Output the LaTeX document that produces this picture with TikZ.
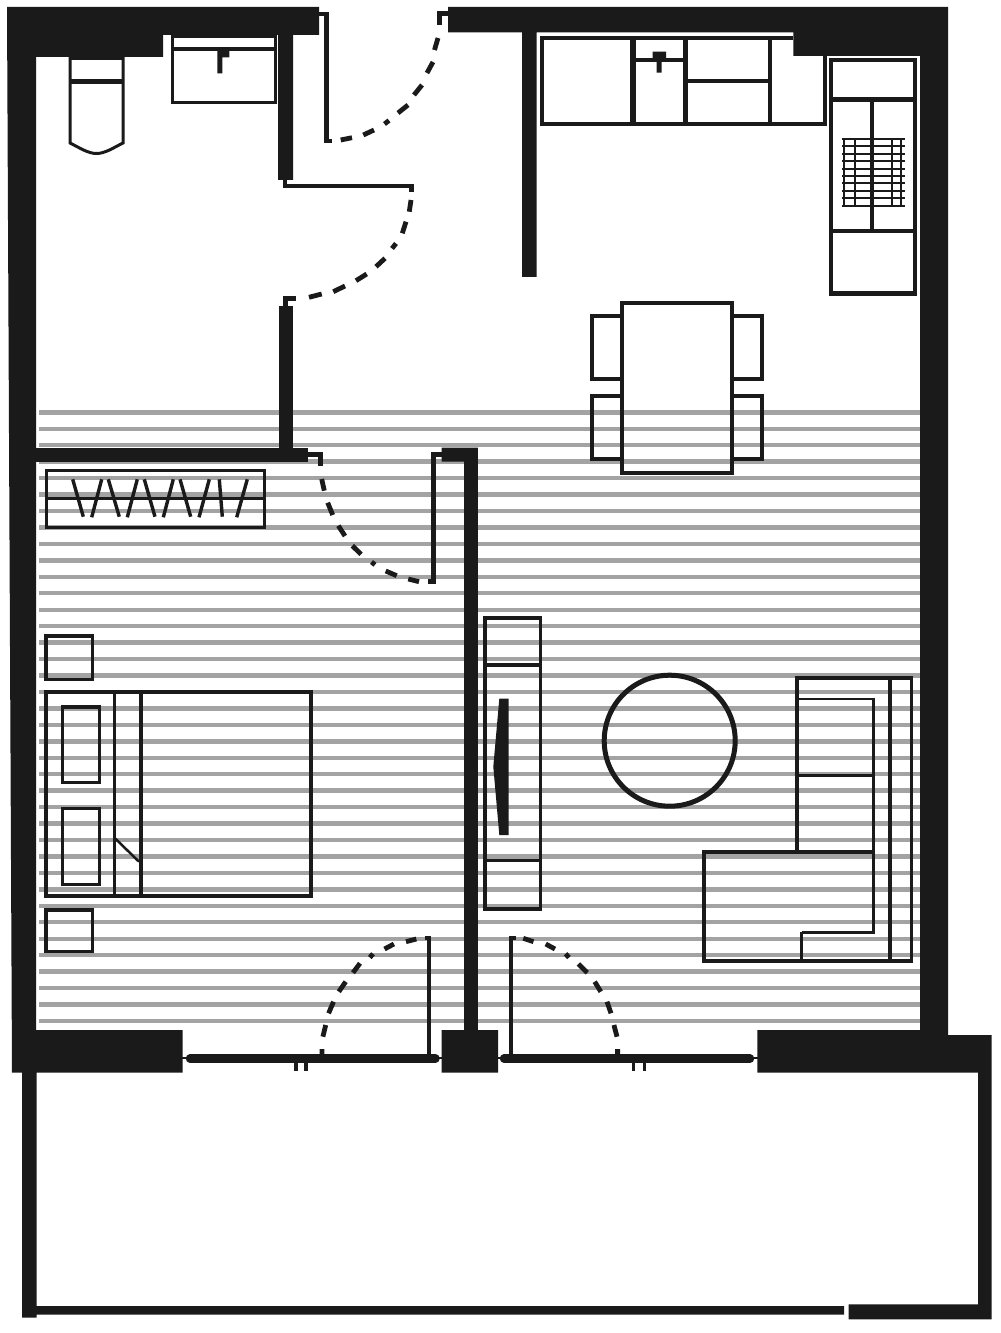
\documentclass[tikz,border=0pt]{standalone}
\definecolor{ink}{HTML}{1A1A1A}
\definecolor{stripe}{HTML}{A3A3A3}
\tikzset{
  lw/.style={line width=#1*0.75pt},
  wall/.style={fill=ink,draw=none},
  furn/.style={draw=ink,lw=#1},
  furn/.default=3.5,
  swing/.style={draw=ink,lw=4.8},
  jamb/.style={draw=ink,lw=4.8},
}
\begin{document}
\begin{tikzpicture}[x=0.75pt,y=-0.75pt]
\useasboundingbox (0,0) rectangle (1000,1333);
\fill[white] (0,0) rectangle (1000,1333);
% floor hatching
\foreach \k in {0,...,37}{
  \draw[stripe,lw=4.4] (39,{412.3+16.45*\k}) -- (920,{412.3+16.45*\k});
}
% toilet
\draw[furn=3] (70,57) -- (70,143) .. controls (80,148) and (88,153.5) .. (96.5,153.5) .. controls (105,153.5) and (113,148) .. (123,143) -- (123,57);
\draw[furn=3] (70,59) -- (123,59);
\draw[furn=4.5] (70,81.5) -- (123,81.5);
% basin
\draw[furn=3.2] (172.3,36) rectangle (275.3,102.8);
\draw[furn=4.5] (172.3,49) -- (275.3,49);
\fill[ink] (217.3,51) rectangle (229.3,57.3) (217.3,51) rectangle (222.3,73.3);
% kitchen bench
\draw[furn=4.2] (793,38) -- (542,38) -- (542,124) -- (825.3,124) -- (825.3,56);
\draw[furn=6] (633,38) -- (633,124);
\draw[furn=5.5] (685.5,38) -- (685.5,124);
\draw[furn=4] (769.7,38) -- (769.7,124);
\draw[furn=4] (633,60.3) -- (685.5,60.3);
\draw[furn=4] (685.5,81.3) -- (769.7,81.3);
\fill[ink] (652.7,51.7) rectangle (666,62) (656.7,60) rectangle (661.7,72.7);
% tall unit and rack
\draw[furn=4.2] (831,60.3) rectangle (914.8,293.5);
\draw[furn=5.5] (831,99.5) -- (914.8,99.5);
\draw[furn=3.5] (831,231) -- (914.8,231);
\draw[furn=4.3] (872.2,99.5) -- (872.2,231);
\foreach \yy in {139,146,153.7,161,168.7,176,183.3,191,198.3,205.7}{
  \draw[furn=2.2] (842.3,\yy) -- (905,\yy);
}
\foreach \xx in {844.3,854.7,891.7,901}{
  \draw[furn=1.8] (\xx,140) -- (\xx,205);
}
% dining table
\draw[furn=4] (622,303) rectangle (731.5,472.5);
\draw[furn=4] (622,316) -- (592,316) -- (592,379) -- (622,379);
\draw[furn=4] (622,396) -- (592,396) -- (592,459) -- (622,459);
\draw[furn=4] (731.5,316) -- (762,316) -- (762,379) -- (731.5,379);
\draw[furn=4] (731.5,396) -- (762,396) -- (762,459) -- (731.5,459);
% wardrobe
\draw[furn=3.2] (46.3,470.3) rectangle (264.3,527.3);
\draw[furn=3.2] (46.3,498.3) -- (264.3,498.3);
\draw[furn=3.4] (72.7,479.3) -- (83.3,516.7) (101.7,479.3) -- (91.7,517.3)
 (108.3,479.3) -- (119.3,516.7) (137.3,479.3) -- (127.3,517.3)
 (144.3,479.3) -- (155,516.7) (173.3,479.3) -- (163.3,517.3)
 (180,479.3) -- (190.7,516.7) (209.3,479.3) -- (199,517.3)
 (219.3,479.3) -- (222.3,516.7) (247.3,479.3) -- (236.7,517.3);
% bed and bedside tables
\draw[furn=3.5] (46,636) rectangle (92.5,679.5);
\draw[furn=3.5] (46,910) rectangle (92.5,951.7);
\draw[furn=3.5] (46,692) rectangle (311,896);
\draw[furn=3] (114.3,692) -- (114.3,896);
\draw[furn=3.5] (140.8,692) -- (140.8,896);
\draw[furn=2.5] (115,838.3) -- (139,861.7);
\draw[furn=3.5] (62.3,707) rectangle (99.5,782.7);
\draw[furn=3.5] (62.3,808.3) rectangle (99.5,884.3);
% media unit
\draw[furn=3.5] (485,618) rectangle (540.5,909);
\draw[furn=4] (485,664.5) -- (540.5,664.5);
\draw[furn=3] (485,860.3) -- (540.5,860.3);
\fill[ink] (499.3,698.7) -- (508.7,698.7) -- (508.7,835) -- (499.3,835) -- (493.3,766.7) -- cycle;
% round rug
\draw[furn=5] (669.7,740.7) circle[radius=65.5];
% sofa
\draw[furn=4] (797.2,852) -- (797.2,678) -- (911.3,678);
\draw[furn=3] (911.3,676) -- (911.3,961);
\draw[furn=3.5] (913,961) -- (703.5,961);
\draw[furn=4] (703.5,962.7) -- (703.5,852) -- (875,852);
\draw[furn=4.5] (890,678) -- (890,961);
\draw[furn=2.8] (797,699) -- (873.3,699) -- (873.3,932.5) -- (801.5,932.5);
\draw[furn=3] (797,775.7) -- (873.3,775.7);
\draw[furn=3] (801.5,931.5) -- (801.5,961);
% door swings
\draw[jamb] (319,14) -- (326.5,14) -- (326.5,141) (324,141) -- (332,141);
\draw[swing] (340.7,140) -- (352,137.7) (363.3,135) -- (374,130) (384.5,124) -- (389,120.5)
 (398,113) -- (408,105) (414,95) -- (422,85) (427,73) -- (433,62) (434.5,50) -- (438,38);
\draw[jamb] (439.7,25) -- (439.7,13.5) -- (448,13.5);
\draw[jamb] (285,180) -- (285,186) -- (411.7,186) -- (411.7,192);
\draw[swing] (411,200) -- (409.3,211.7) (406,221.7) -- (402.3,233.3) (392,248.5) -- (396,243.5)
 (385,258.3) -- (376,266.7) (366.7,274) -- (356,280.7) (345,286) -- (333.3,291.7) (321.7,294) -- (309,297.3);
\draw[jamb] (296,298.5) -- (285.5,298.5) -- (285.5,307);
\draw[jamb] (308,454.5) -- (320.7,454.5) -- (320.7,465.7);
\draw[swing] (321.7,479) -- (324.3,490.7) (327.7,502.7) -- (332.7,515) (338.3,525.7) -- (345,536)
 (352.3,545.7) -- (361,554.3) (371.5,562) -- (375,564.8) (385.7,571) -- (396.7,575.7) (408.3,579) -- (419,581.7);
\draw[jamb] (428,581.7) -- (433.5,581.7) -- (433.5,454.5) -- (442,454.5);
% sliding doors
\draw[draw=ink,lw=8.5,line cap=round] (190,1058.5) -- (435.5,1058.5);
\draw[draw=ink,lw=8.5,line cap=round] (504,1058.5) -- (750,1058.5);
\draw[draw=ink,lw=1.5] (182,1058) -- (190,1058) (435,1058) -- (442,1058) (498,1058) -- (504,1058) (750,1058) -- (758,1058);
\draw[furn=3.2] (296,1062) -- (296,1070.5) (306,1062) -- (306,1070.5) (633.5,1062) -- (633.5,1070.5) (644.5,1062) -- (644.5,1070.5);
\draw[furn=4] (424.5,938) -- (429.4,938) -- (429.4,1056);
\draw[furn=4] (516,938) -- (510.5,938) -- (510.5,1056);
\draw[swing] (416.3,939) -- (406,941.7) (393.9,944) -- (384.5,949) (369.8,957.5) -- (373,953.8)
 (360,963.3) -- (353,972.7) (345.7,981.7) -- (338.8,991.7) (333.5,1001.7) -- (328.6,1013.3)
 (325.7,1025) -- (322.9,1036.7) (322,1049) -- (322,1056);
\draw[swing] (523.3,938.3) -- (533.5,941.7) (545.7,944) -- (555,949) (565.5,953.8) -- (569,957.5)
 (578.4,964) -- (587.3,972.7) (594.7,981.7) -- (600.8,991.7) (607,1001.7) -- (611,1013.3)
 (613.9,1025) -- (617,1036.7) (617.6,1049) -- (617.6,1056);
% walls
\fill[wall] (7,7) -- (319,7) -- (319,35) -- (293,35) -- (293,180) -- (278,180) -- (278,35) -- (163,35) -- (163,57) -- (36,57) -- (36,1030) -- (182.7,1030) -- (182.7,1072.7) -- (36.7,1072.7) -- (36.7,1306) -- (844,1306) -- (844,1314.7) -- (36.7,1314.7) -- (36.7,1317.5) -- (22,1317.5) -- (22,1072.7) -- (12,1072.7) -- cycle;
\fill[wall] (448,7) -- (948,7) -- (948,1035) -- (991.7,1035) -- (991.7,1319.3) -- (848.7,1319.3) -- (848.7,1304.3) -- (978,1304.3) -- (978,1072.7) -- (757.3,1072.7) -- (757.3,1030) -- (920,1030) -- (920,56) -- (793.3,56) -- (793.3,32.3) -- (536.7,32.3) -- (536.7,277) -- (522,277) -- (522,32.3) -- (448,32.3) -- cycle;
\fill[wall] (278.5,306.5) rectangle (293,447.7);
\fill[wall] (36,447.7) rectangle (308,461.7);
\fill[wall] (441.7,447.7) -- (477.8,447.7) -- (477.8,1030) -- (498,1030) -- (498,1072.7) -- (441.7,1072.7) -- (441.7,1030) -- (464,1030) -- (464,461.7) -- (441.7,461.7) -- cycle;
\end{tikzpicture}
\end{document}
